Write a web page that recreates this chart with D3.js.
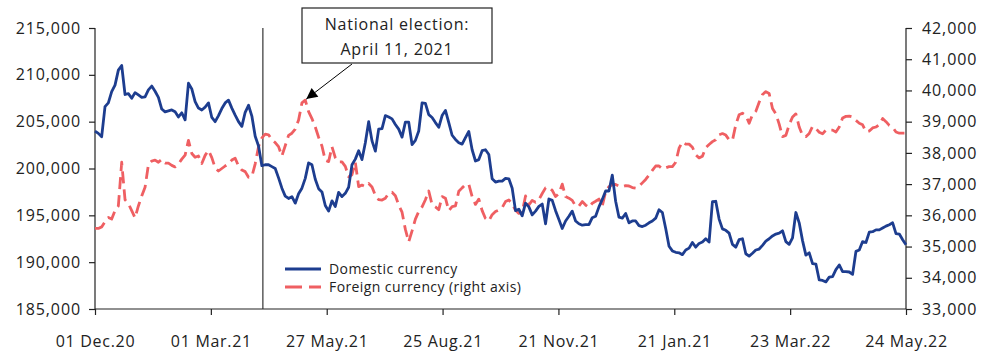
<!DOCTYPE html>
<html>
<head>
<meta charset="utf-8">
<script src="https://cdn.jsdelivr.net/npm/d3@7"></script>
<style>
  html, body { margin: 0; padding: 0; background: #ffffff; }
  svg { display: block; font-family: "Open Sans", "Noto Sans", sans-serif; }
  .tick text { fill: #222; }
</style>
</head>
<body>
<svg id="chart" width="987" height="359"></svg>
<script>
// Category labels shown along the bottom axis (evenly spaced)
const xTickLabels = ["01 Dec.20", "01 Mar.21", "27 May.21", "25 Aug.21", "21 Nov.21", "21 Jan.21", "23 Mar.22", "24 May.22"];

// Domestic currency (left axis)
const domestic = [
  204000, 203750, 203400, 206600, 207000, 208200, 208900, 210500, 211000, 207900,
  208000, 207500, 208100, 207850, 207600, 207650, 208400, 208800, 208250, 207600,
  206350, 206050, 206150, 206250, 206050, 205500, 205950, 205200, 209100, 208500,
  207150, 206450, 206250, 206550, 207000, 205450, 205000, 205650, 206400, 207000,
  207300, 206450, 205700, 205000, 204500, 206000, 206750, 205600, 203450, 202400,
  200300, 200400, 200400, 200200, 200000, 199000, 197900, 197050, 196800, 197000,
  196300, 197300, 197900, 198950, 200600, 200400, 198850, 197850, 197500, 196050,
  195450, 196550, 195950, 197450, 197000, 197350, 198000, 200400, 201000, 201900,
  200950, 202750, 205000, 202950, 201850, 204200, 204250, 205650, 205500, 205300,
  204700, 204200, 203350, 204950, 204950, 202550, 203000, 204000, 207000, 206950,
  205750, 205450, 204900, 204400, 205650, 206200, 204900, 203550, 203100, 202750,
  202600, 203300, 203950, 202000, 200800, 200950, 201900, 202000, 201500, 198900,
  198550, 198650, 198650, 198950, 198900, 197900, 195500, 195650, 194950, 196300,
  195900, 195050, 195450, 195950, 196200, 194100, 196750, 196600, 195500, 194550,
  193600, 194400, 194900, 195450, 194400, 194100, 193950, 194000, 194000, 194750,
  194900, 195900, 196700, 197600, 197600, 199300, 196500, 194800, 194700, 195200,
  194200, 194400, 194400, 193900, 193800, 193950, 194200, 194400, 194700, 195600,
  195300, 193600, 191700, 191200, 191050, 191000, 190800, 191300, 191500, 192100,
  191600, 192000, 192150, 192500, 192150, 196450, 196500, 194600, 193550, 193400,
  193100, 191900, 191600, 192400, 192500, 190900, 190650, 190950, 191300, 191400,
  191800, 192250, 192500, 192800, 193000, 193100, 193350, 192200, 191900, 192600,
  195300, 194200, 192300, 190750, 191000, 189850, 189800, 188100, 188050, 187900,
  188400, 188450, 189200, 189700, 189000, 189000, 188950, 188700, 191150, 191300,
  192200, 192100, 193200, 193250, 193450, 193450, 193650, 193850, 194000, 194200,
  193050, 193000, 192400, 191850
];

// Foreign currency (right axis)
const foreign = [
  35580, 35580, 35630, 35800, 35930, 35880, 36150, 36300, 37700, 36500,
  36380, 36150, 35920, 36300, 36620, 36900, 37620, 37740, 37770, 37700,
  37790, 37670, 37670, 37600, 37550, 37640, 37800, 37930, 38400, 37980,
  37860, 37900, 37660, 37920, 38080, 37850, 37520, 37420, 37500, 37580,
  37650, 37770, 37830, 37580, 37450, 37400, 37220, 37240, 37650, 38200,
  38480, 38600, 38580, 38420, 38330, 38200, 37900, 38230, 38560, 38630,
  38760, 39050, 39600, 39690, 39320, 39100, 38830, 38500, 38220, 37760,
  37720, 38200, 37850, 37710, 37710, 37570, 37230, 37300, 37700, 36920,
  36970, 36920, 37020, 36910, 36640, 36500, 36490, 36550, 36710, 36740,
  36630, 36330, 36100, 35550, 35150, 35500, 35880, 36120, 36270, 36500,
  36780, 36340, 36270, 36180, 36600, 36550, 36150, 36280, 36300, 36770,
  36880, 36980, 37000, 36600, 36350, 36520, 36150, 35900, 35820, 36020,
  36120, 36170, 36250, 36440, 36490, 36370, 36160, 36060, 36100, 36620,
  36330, 36480, 36420, 36500, 36700, 36880, 36900, 36800, 36600, 36700,
  37000, 36600, 36550, 36480, 36300, 36300, 36440, 36330, 36250, 36390,
  36450, 36520, 36300, 36750, 36920, 36980, 36990, 36940, 36920, 36950,
  36940, 36890, 36870, 36930, 37040, 37150, 37290, 37440, 37580, 37580,
  37490, 37520, 37560, 37560, 37700, 38150, 38350, 38280, 38280, 38180,
  37940, 37840, 37890, 38170, 38270, 38360, 38420, 38580, 38620, 38570,
  38420, 38400, 38900, 39220, 39270, 39200, 38950, 39220, 39330, 39620,
  39870, 39960, 39900, 39420, 39250, 38920, 38520, 38560, 38900, 39150,
  39250, 38830, 38560, 38520, 38620, 38850, 38780, 38660, 38610, 38730,
  38730, 38730, 38670, 38830, 39120, 39170, 39180, 39150, 39040, 38950,
  38900, 38680, 38700, 38800, 38830, 38900, 39100, 39000, 38880, 38820,
  38670, 38630, 38630, 38630
];

// Axis tick values
const leftTicks = [185000, 190000, 195000, 200000, 205000, 210000, 215000];
const rightTicks = [33000, 34000, 35000, 36000, 37000, 38000, 39000, 40000, 41000, 42000];

// Election marker position (in series index units) and the peak it points at
const electionIndex = 50.3;
const calloutIndex = 63;
const calloutLines = ["National election:", "April 11, 2021"];

const seriesNames = ["Domestic currency", "Foreign currency (right axis)"];
const colors = { domestic: "#1d3d8f", foreign: "#ef5f62" };

const margin = { left: 95, right: 81, top: 28, bottom: 50 };
const W = 987, H = 359;
const plotW = W - margin.left - margin.right;
const plotH = H - margin.top - margin.bottom;

const svg = d3.select("#chart");
const g = svg.append("g").attr("transform", `translate(${margin.left},${margin.top})`);

const n = domestic.length;
const x = d3.scaleLinear().domain([0, n - 1]).range([0, plotW]);
const yL = d3.scaleLinear().domain([185000, 215000]).range([plotH, 0]);
const yR = d3.scaleLinear().domain([33000, 42000]).range([plotH, 0]);

const fmt = d3.format(",");

// Left axis
const axL = g.append("g")
  .call(d3.axisLeft(yL).tickValues(leftTicks).tickFormat(fmt).tickSize(6).tickPadding(8));
// Right axis
const axR = g.append("g").attr("transform", `translate(${plotW},0)`)
  .call(d3.axisRight(yR).tickValues(rightTicks).tickFormat(fmt).tickSize(6).tickPadding(10));
// Bottom axis
const xTickVals = xTickLabels.map((_, k) => k * (n - 1) / (xTickLabels.length - 1));
const axB = g.append("g").attr("transform", `translate(0,${plotH})`)
  .call(d3.axisBottom(x).tickValues(xTickVals).tickFormat((d, k) => xTickLabels[k]).tickSize(6).tickPadding(21));

[axL, axR, axB].forEach(a => {
  a.selectAll("path.domain").attr("stroke", "#222").attr("stroke-width", 1.2);
  a.selectAll(".tick line").attr("stroke", "#222").attr("stroke-width", 1.2);
  a.selectAll(".tick text").attr("font-size", 16).attr("font-family", "Open Sans")
    .attr("fill", "#222").attr("letter-spacing", "0.9px");
});
axB.selectAll(".tick text").attr("letter-spacing", "0.7px");
axB.select("path.domain").attr("d", `M0,0H${plotW}`);
axL.select("path.domain").attr("d", `M0,0V${plotH}`);
axR.select("path.domain").attr("d", `M0,0V${plotH}`);

// Election vertical rule
g.append("line")
  .attr("x1", x(electionIndex)).attr("x2", x(electionIndex))
  .attr("y1", 0).attr("y2", plotH)
  .attr("stroke", "#333").attr("stroke-width", 1.2);

// Series lines
const lineL = d3.line().x((d, i) => x(i)).y(d => yL(d)).curve(d3.curveLinear);
const lineR = d3.line().x((d, i) => x(i)).y(d => yR(d)).curve(d3.curveLinear);

g.append("path").datum(foreign)
  .attr("fill", "none").attr("stroke", colors.foreign).attr("stroke-width", 2.8)
  .attr("stroke-dasharray", "12,6").attr("stroke-linejoin", "round")
  .attr("d", lineR);

g.append("path").datum(domestic)
  .attr("fill", "none").attr("stroke", colors.domestic).attr("stroke-width", 2.8)
  .attr("stroke-linejoin", "round")
  .attr("d", lineL);

// Callout box with arrow to the foreign-currency peak
const boxX = 207, boxY = -20, boxW = 190, boxH = 55;
const tipX = x(calloutIndex), tipY = yR(foreign[calloutIndex]);
const defs = svg.append("defs");
defs.append("marker").attr("id", "arrowhead")
  .attr("viewBox", "0 0 10 10").attr("refX", 10).attr("refY", 5)
  .attr("markerWidth", 13).attr("markerHeight", 11).attr("markerUnits", "userSpaceOnUse")
  .attr("orient", "auto")
  .append("path").attr("d", "M0,0L10,5L0,10Z").attr("fill", "#000");

g.append("line")
  .attr("x1", boxX + 50).attr("y1", boxY + boxH + 1)
  .attr("x2", tipX + 1).attr("y2", tipY - 1)
  .attr("stroke", "#000").attr("stroke-width", 1)
  .attr("marker-end", "url(#arrowhead)");

g.append("rect")
  .attr("x", boxX).attr("y", boxY).attr("width", boxW).attr("height", boxH)
  .attr("fill", "#fff").attr("stroke", "#222").attr("stroke-width", 1.2);

g.append("text")
  .attr("x", boxX + boxW / 2).attr("y", boxY + 22)
  .attr("text-anchor", "middle").attr("font-size", 16).attr("fill", "#222")
  .attr("letter-spacing", "0.8px")
  .text(calloutLines[0]);
g.append("text")
  .attr("x", boxX + boxW / 2).attr("y", boxY + 47)
  .attr("text-anchor", "middle").attr("font-size", 16).attr("fill", "#222")
  .attr("letter-spacing", "0.8px")
  .text(calloutLines[1]);

// Legend
const legend = g.append("g").attr("transform", "translate(190,241)");
const legendItems = [
  { name: seriesNames[0], color: colors.domestic, dash: null },
  { name: seriesNames[1], color: colors.foreign, dash: "17,7" }
];
legendItems.forEach((it, k) => {
  const row = legend.append("g").attr("transform", `translate(0,${k * 18})`);
  row.append("line").attr("x1", 0).attr("x2", 36).attr("y1", 0).attr("y2", 0)
    .attr("stroke", it.color).attr("stroke-width", 2.8)
    .attr("stroke-dasharray", it.dash);
  row.append("text").attr("x", 44).attr("y", 0).attr("dy", "0.35em")
    .attr("font-size", 14).attr("fill", "#222").attr("letter-spacing", "0.4px")
    .text(it.name);
});
</script>
</body>
</html>
